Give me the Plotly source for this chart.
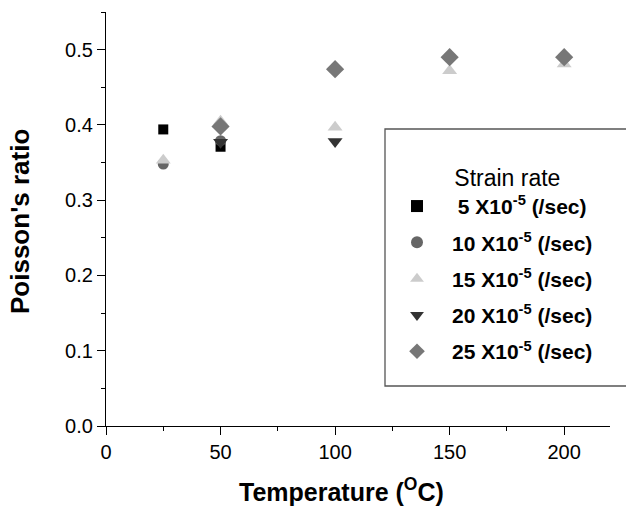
import plotly.graph_objects as go

# Data
series_names = ["5", "10", "15", "20", "25"]
temps_5 = [25, 50]
vals_5 = [0.394, 0.371]
temps_10 = [25, 50]
vals_10 = [0.348, 0.379]
temps_15 = [25, 50, 100, 150, 200]
vals_15 = [0.353, 0.405, 0.397, 0.472, 0.481]
temps_20 = [50, 100]
vals_20 = [0.377, 0.378]
temps_25 = [50, 100, 150, 200]
vals_25 = [0.398, 0.474, 0.490, 0.490]

x_ticks = [0, 50, 100, 150, 200]
y_ticks = [0.0, 0.1, 0.2, 0.3, 0.4, 0.5]

styles = [
    (temps_5, vals_5, "square", "#000000", 10),
    (temps_10, vals_10, "circle", "#666666", 11),
    (temps_15, vals_15, "triangle-up", "#cccccc", 13),
    (temps_20, vals_20, "triangle-down", "#333333", 13),
    (temps_25, vals_25, "diamond", "#777777", 14),
]

FONT = "Liberation Sans, Arial, sans-serif"
fig = go.Figure()
for i, (name, (xs, ys, sym, col, sz)) in enumerate(zip(series_names, styles)):
    label = ("&nbsp;" if name == "5" else "") + f"<b>{name} X10<sup>-5</sup> (/sec)</b>"
    fig.add_trace(go.Scatter(
        x=xs, y=ys, mode="markers", name=label,
        marker=dict(symbol=sym, color=col, size=sz, line=dict(width=0)),
        legendgroup=f"g{i}",
    ))

L, R, T, B = 106, 16, 12, 82
W, H = 626, 508
pw = W - L - R
ph = H - T - B

def px_x(p):
    return (p - L) / pw

def px_y(p):
    return (H - B - p) / ph

fig.update_layout(
    width=W, height=H,
    margin=dict(l=L, r=R, t=T, b=B, pad=0),
    paper_bgcolor="white", plot_bgcolor="white",
    font=dict(family=FONT, color="#000000", size=20),
    showlegend=True,
    legend=dict(
        x=px_x(382), y=px_y(156), xanchor="left", yanchor="top",
        bgcolor="rgba(0,0,0,0)", borderwidth=0,
        title=dict(text="&nbsp;" * 11 + "Strain rate",
                   font=dict(size=23, family=FONT)),
        font=dict(size=21, family=FONT),
        traceorder="grouped", tracegroupgap=6,
        itemsizing="constant", itemwidth=60,
    ),
    xaxis=dict(
        range=[0, 220], showgrid=False, zeroline=False,
        showline=True, linecolor="black", linewidth=1.3,
        ticks="outside", ticklen=8, tickwidth=1.3, tickcolor="black",
        tickvals=x_ticks, ticktext=[str(v) for v in x_ticks],
        tickfont=dict(size=20, family=FONT),
        minor=dict(ticks="outside", ticklen=4, tickwidth=1.3, tickcolor="black", dtick=25, showgrid=False),
    ),
    yaxis=dict(
        range=[0, 0.55], showgrid=False, zeroline=False,
        showline=True, linecolor="black", linewidth=1.3,
        ticks="outside", ticklen=8, tickwidth=1.3, tickcolor="black",
        tickvals=y_ticks, ticktext=[f"{v:.1f}" for v in y_ticks],
        tickfont=dict(size=20, family=FONT),
        minor=dict(ticks="outside", ticklen=4, tickwidth=1.3, tickcolor="black", dtick=0.05, showgrid=False),
    ),
    shapes=[dict(
        type="rect", xref="paper", yref="paper",
        x0=px_x(385), x1=px_x(632), y0=px_y(386), y1=px_y(129),
        line=dict(color="#555555", width=1.3), fillcolor="rgba(0,0,0,0)",
    )],
    annotations=[
        dict(text="<b>Temperature (<sup>O</sup>C)</b>", xref="paper", yref="paper",
             x=px_x(341), y=px_y(490), xanchor="center", yanchor="middle",
             showarrow=False, font=dict(size=25, family=FONT)),
        dict(text="<b>Poisson's ratio</b>", xref="paper", yref="paper",
             x=px_x(20), y=px_y(222), xanchor="center", yanchor="middle",
             textangle=-90, showarrow=False, font=dict(size=26, family=FONT)),
    ],
)

fig.write_html("out.html")
